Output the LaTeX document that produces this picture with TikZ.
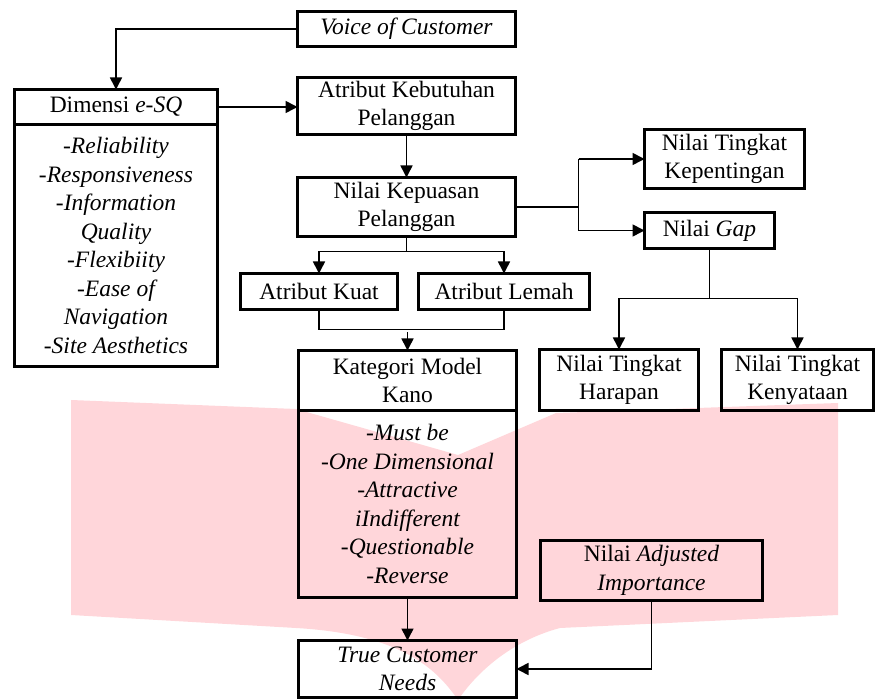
\documentclass[tikz,border=0pt]{standalone}
\usepackage{fontspec}
\setmainfont{Liberation Serif}
\usetikzlibrary{arrows.meta,positioning,calc}
\definecolor{wmpink}{RGB}{255,214,218}

\begin{document}
\begin{tikzpicture}[
  x=1pt, y=-1pt,
  font=\fontsize{23.5}{28.5}\selectfont,
  box/.style={draw=black, line width=3pt, align=center, inner sep=2pt, outer sep=0pt,
    minimum width=#1, minimum height=35pt},
  box/.default=218pt,
  list/.style={font=\fontsize{23.5}{28.5}\selectfont\itshape},
  arrow/.style={-{Triangle[length=12pt,width=12pt]}, line width=1.6pt},
  link/.style={line width=1.6pt}
]
  \useasboundingbox (0,0) rectangle (876,700);

  % watermark behind the chart
  \fill[wmpink] (71,400) -- (296,409) -- (458,455) -- (556,413) -- (838,403) -- (838,615)
    -- (560,628) .. controls (515,640) and (480,668) .. (458,700)
    .. controls (436,668) and (400,634) .. (296,628) -- (71,615) -- cycle;

  % main column
  \node[box] (voc) at (406.5,29) {\textit{Voice of Customer}};
  \node[box, minimum height=57pt, below=31pt of voc] (akb) {Atribut Kebutuhan\\Pelanggan};
  \node[box, minimum height=59pt, below=43pt of akb] (nkp) {Nilai Kepuasan\\Pelanggan};
  \node[box=157pt, minimum height=36pt] (kuat) at (319,291.5) {Atribut Kuat};
  \node[box=171pt, minimum height=36pt] (lemah) at (504,291.5) {Atribut Lemah};
  \node[box, minimum height=60pt] (kano) at (407.5,380.5) {Kategori Model\\Kano};
  \node[box, minimum height=187pt, below=0pt of kano, list] (kanolist)
    {-Must be\\-One Dimensional\\-Attractive\\iIndifferent\\-Questionable\\-Reverse};
  \node[box, minimum height=57pt, below=43pt of kanolist] (tcn) {\textit{True Customer}\\\textit{Needs}};

  % left column
  \node[box=203pt] (dim) at (116,107) {Dimensi \textit{e-SQ}};
  \node[box=203pt, minimum height=242pt, below=0pt of dim, list] (dimlist)
    {-Reliability\\-Responsiveness\\-Information\\Quality\\-Flexibiity\\-Ease of\\Navigation\\-Site Aesthetics};

  % right side
  \node[box=160pt, minimum height=59pt] (ntk) at (724.5,159) {Nilai Tingkat\\Kepentingan};
  \node[box=130pt, minimum height=36pt] (gap) at (709.5,230.5) {Nilai \textit{Gap}};
  \node[box=159pt, minimum height=61pt] (harapan) at (619,380) {Nilai Tingkat\\Harapan};
  \node[box=152pt, minimum height=61pt] (kenyataan) at (797.5,380) {Nilai Tingkat\\Kenyataan};
  \node[box=222pt, minimum height=60pt] (adj) at (651.5,570.5) {Nilai \textit{Adjusted}\\\textit{Importance}};

  % connectors
  \draw[arrow] (voc.west) -| (dim.north);
  \draw[arrow] (dim.east) -- (dim.east -| akb.west);
  \draw[arrow] (akb) -- (nkp);
  \draw[link] (nkp.east) -- ++(63,0) coordinate (fork);
  \draw[arrow] (fork |- ntk.west) -- (ntk.west);
  \draw[arrow] (fork |- ntk.west) -- (fork |- gap.west) -- (gap.west);
  \draw[arrow] (nkp.south) -- ++(0,15) coordinate (split) -| (kuat.north);
  \draw[arrow] (split) -| (lemah.north);
  \draw[link] (kuat.south) -- ++(0,20) -| (lemah.south);
  \draw[arrow] (kano.north) ++(0,-18) -- (kano.north);
  \draw[link] (gap.south) -- ++(0,50) coordinate (gapfork);
  \draw[arrow] (gapfork) -| (harapan.north);
  \draw[arrow] (gapfork) -| (kenyataan.north);
  \draw[arrow] (kanolist) -- (tcn);
  \draw[arrow] (adj.south) |- (tcn.east);
\end{tikzpicture}
\end{document}
